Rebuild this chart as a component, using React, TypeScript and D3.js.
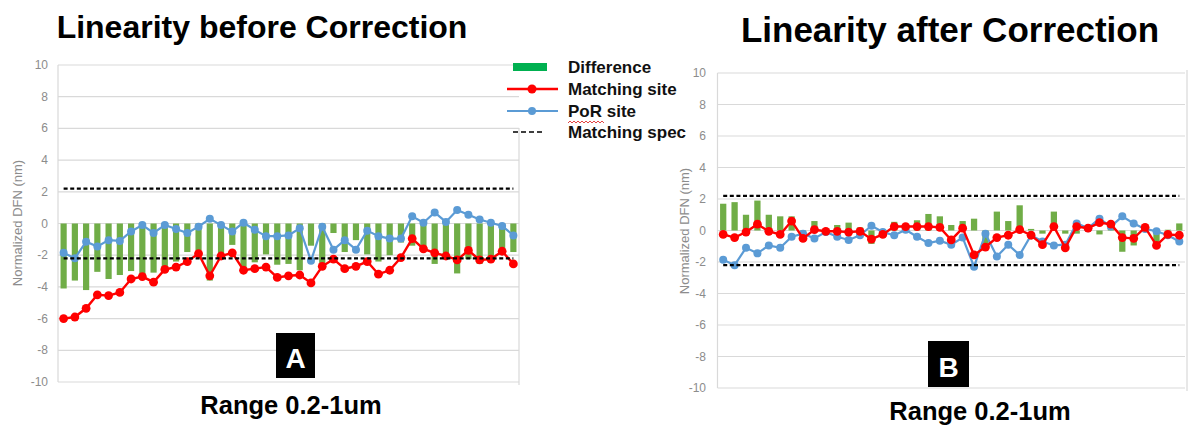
import React, { useRef, useEffect } from 'react';
import * as d3 from 'd3';

// site index along the range (41 measurement sites)
const siteIds = d3.range(1, 42);
const yTicks = [10, 8, 6, 4, 2, 0, -2, -4, -6, -8, -10];
const specLimit = 2.2;

// before correction
const beforeMatching = [-6.0, -5.9, -5.35, -4.5, -4.55, -4.35, -3.5, -3.35, -3.7, -2.9, -2.75, -2.4, -1.9, -3.3, -2.05, -1.85, -2.95, -2.85, -2.75, -3.4, -3.3, -3.25, -3.75, -2.7, -2.25, -2.85, -2.7, -2.4, -3.2, -2.95, -2.15, -0.95, -1.6, -1.85, -2.05, -2.3, -1.7, -2.3, -2.25, -1.75, -2.55];
const beforePoR = [-1.85, -2.2, -1.15, -1.45, -1.05, -1.1, -0.5, -0.1, -0.6, -0.1, -0.35, -0.6, -0.2, 0.3, -0.1, -0.5, 0.05, -0.4, -0.8, -0.8, -0.75, -0.3, -2.35, -0.2, -1.65, -1.05, -1.65, -0.45, -0.8, -0.95, -0.95, 0.45, 0.05, 0.7, 0.1, 0.85, 0.55, 0.25, 0.05, -0.15, -0.75];
const beforeDiff = [-4.1, -3.6, -4.2, -3.05, -3.5, -3.25, -3.0, -3.25, -3.1, -2.8, -2.4, -1.8, -1.7, -3.6, -1.95, -1.35, -3.0, -2.45, -1.95, -2.6, -2.55, -2.95, -1.4, -2.5, -0.6, -1.8, -1.05, -1.95, -2.4, -2.0, -1.2, -1.4, -1.65, -2.55, -2.15, -3.15, -2.25, -2.55, -2.3, -1.6, -1.8];

// after correction
const afterMatching = [-0.25, -0.45, -0.1, 0.4, -0.05, -0.25, 0.6, -0.5, 0.05, -0.05, -0.05, -0.1, -0.05, -0.55, -0.25, 0.25, 0.25, 0.25, 0.25, 0.2, -0.6, 0.15, -1.55, -1.05, -0.45, -0.3, 0.05, -0.3, -0.9, 0.25, -1.1, 0.25, 0.15, 0.5, 0.4, -0.45, -0.5, 0.2, -0.95, -0.25, -0.3];
const afterPoR = [-1.85, -2.2, -1.1, -1.45, -0.95, -1.1, -0.4, -0.2, -0.5, -0.1, -0.4, -0.6, -0.3, 0.3, -0.1, -0.3, 0.05, -0.4, -0.8, -0.65, -0.9, -0.45, -2.3, -0.2, -1.65, -0.9, -1.55, -0.3, -0.7, -0.95, -0.9, 0.45, 0.15, 0.75, 0.25, 0.9, 0.45, 0.1, -0.05, -0.3, -0.7];
const afterDiff = [1.7, 1.8, 1.0, 1.9, 1.0, 0.9, 0.9, -0.3, 0.6, 0.05, 0.35, 0.5, 0.2, -0.85, -0.15, 0.55, 0.2, 0.65, 1.05, 0.9, 0.35, 0.6, 0.75, -0.85, 1.2, 0.6, 1.6, 0.1, -0.2, 1.2, -0.2, -0.2, 0.0, -0.25, 0.15, -1.35, -0.95, 0.1, -0.95, 0.05, 0.45];

const legendItems = ['Difference', 'Matching site', 'PoR site', 'Matching spec'];

const FONT = "'Liberation Sans', Arial, sans-serif";
const GREEN = '#70ad47';
const RED = '#ff0000';
const BLUE = '#5b9bd5';
const GRID = '#d9d9d9';
const TICK = '#8c8c8c';

function drawPanel(svg, p) {
    const x = d3.scaleBand().domain(siteIds).range([p.left, p.right]).paddingInner(0.45).paddingOuter(0.225);
    const xc = (i) => x(siteIds[i]) + x.bandwidth() / 2;
    const y = d3.scaleLinear().domain([-10, 10]).range([p.bottom, p.top]);

    const g = svg.append('g');

    // gridlines
    g.selectAll('line.grid')
        .data(yTicks)
        .enter()
        .append('line')
        .attr('x1', p.left)
        .attr('x2', p.right)
        .attr('y1', (d) => y(d))
        .attr('y2', (d) => y(d))
        .attr('stroke', GRID)
        .attr('stroke-width', 1.2);

    g.append('line')
        .attr('x1', p.left).attr('x2', p.left)
        .attr('y1', y(10)).attr('y2', y(-10))
        .attr('stroke', GRID).attr('stroke-width', 1.2);

    g.append('line')
        .attr('x1', p.border).attr('x2', p.border)
        .attr('y1', p.borderTop).attr('y2', p.bottom + 3)
        .attr('stroke', GRID).attr('stroke-width', 1.2);

    // tick labels
    g.selectAll('text.tick')
        .data(yTicks)
        .enter()
        .append('text')
        .attr('x', p.tickX)
        .attr('y', (d) => y(d) + 4)
        .attr('text-anchor', 'end')
        .attr('font-family', FONT)
        .attr('font-size', 12)
        .attr('fill', TICK)
        .text((d) => d);

    g.append('text')
        .attr('transform', `translate(${p.titleX},${p.titleY}) rotate(-90)`)
        .attr('text-anchor', 'middle')
        .attr('font-family', FONT)
        .attr('font-size', 13)
        .attr('fill', TICK)
        .text('Normalized DFN (nm)');

    // difference bars
    g.selectAll('rect.bar')
        .data(p.diff)
        .enter()
        .append('rect')
        .attr('x', (d, i) => x(siteIds[i]))
        .attr('y', (d) => y(Math.max(0, d)))
        .attr('width', x.bandwidth())
        .attr('height', (d) => Math.abs(y(d) - y(0)))
        .attr('fill', GREEN);

    const line = d3.line().x((d, i) => xc(i)).y((d) => y(d));

    // PoR site
    g.append('path').attr('d', line(p.por)).attr('fill', 'none').attr('stroke', BLUE).attr('stroke-width', 2.2);
    g.selectAll('circle.por')
        .data(p.por)
        .enter()
        .append('circle')
        .attr('cx', (d, i) => xc(i))
        .attr('cy', (d) => y(d))
        .attr('r', 4)
        .attr('fill', BLUE);

    // matching site
    g.append('path').attr('d', line(p.matching)).attr('fill', 'none').attr('stroke', RED).attr('stroke-width', 2.4);
    g.selectAll('circle.match')
        .data(p.matching)
        .enter()
        .append('circle')
        .attr('cx', (d, i) => xc(i))
        .attr('cy', (d) => y(d))
        .attr('r', 4.4)
        .attr('fill', RED);

    // spec limits
    [specLimit, -specLimit].forEach((s) => {
        g.append('line')
            .attr('x1', xc(0)).attr('x2', xc(siteIds.length - 1))
            .attr('y1', y(s)).attr('y2', y(s))
            .attr('stroke', '#000')
            .attr('stroke-width', 2.4)
            .attr('stroke-dasharray', '4,2.6');
    });

    // titles
    svg.append('text')
        .attr('x', p.headX).attr('y', p.headY)
        .attr('text-anchor', 'middle')
        .attr('font-family', FONT).attr('font-weight', 'bold')
        .attr('font-size', p.headSize)
        .attr('fill', '#000')
        .text(p.head);

    svg.append('text')
        .attr('x', p.rangeX).attr('y', p.rangeY)
        .attr('text-anchor', 'middle')
        .attr('font-family', FONT).attr('font-weight', 'bold')
        .attr('font-size', 25.5)
        .attr('fill', '#000')
        .text('Range 0.2-1um');

    svg.append('rect')
        .attr('x', p.box[0]).attr('y', p.box[1])
        .attr('width', p.box[2]).attr('height', p.box[3])
        .attr('fill', '#000');
    svg.append('text')
        .attr('x', p.box[0] + p.box[2] / 2).attr('y', p.box[1] + p.box[3] - 10)
        .attr('text-anchor', 'middle')
        .attr('font-family', FONT).attr('font-weight', 'bold')
        .attr('font-size', 28)
        .attr('fill', '#fff')
        .text(p.letter);
}

function drawLegend(svg) {
    const g = svg.append('g');
    const rowY = [67, 89, 111, 132];

    g.append('rect').attr('x', 513).attr('y', 63).attr('width', 34).attr('height', 8).attr('fill', '#00b050');
    g.append('line').attr('x1', 507).attr('x2', 558).attr('y1', rowY[1]).attr('y2', rowY[1]).attr('stroke', RED).attr('stroke-width', 2.5);
    g.append('circle').attr('cx', 532).attr('cy', rowY[1]).attr('r', 4.5).attr('fill', RED);
    g.append('line').attr('x1', 507).attr('x2', 558).attr('y1', rowY[2]).attr('y2', rowY[2]).attr('stroke', BLUE).attr('stroke-width', 2.2);
    g.append('circle').attr('cx', 532).attr('cy', rowY[2]).attr('r', 4).attr('fill', BLUE);
    g.append('line').attr('x1', 513).attr('x2', 545).attr('y1', rowY[3]).attr('y2', rowY[3])
        .attr('stroke', '#000').attr('stroke-width', 1.6).attr('stroke-dasharray', '5,3');

    g.selectAll('text.leg')
        .data(legendItems)
        .enter()
        .append('text')
        .attr('x', 568)
        .attr('y', (d, i) => rowY[i] + 6)
        .attr('font-family', FONT).attr('font-weight', 'bold')
        .attr('font-size', 17)
        .attr('fill', '#111')
        .text((d) => d);

    // spell-check squiggle under "PoR"
    const wave = d3.range(0, 38, 2).map((dx, i) => [568 + dx, 122 + (i % 2 ? -1 : 1)]);
    g.append('path').attr('d', d3.line()(wave)).attr('fill', 'none').attr('stroke', '#e03030').attr('stroke-width', 0.9);
}

export default function App() {
    const ref = useRef(null);

    useEffect(() => {
        const svg = d3.select(ref.current);
        svg.selectAll('*').remove();

        drawPanel(svg, {
            left: 58, right: 519, top: 65, bottom: 382,
            border: 519, borderTop: 128,
            tickX: 48, titleX: 22, titleY: 223,
            matching: beforeMatching, por: beforePoR, diff: beforeDiff,
            head: 'Linearity before Correction', headX: 262, headY: 38, headSize: 32,
            rangeX: 291, rangeY: 414,
            box: [276, 333, 39, 45], letter: 'A',
        });

        drawPanel(svg, {
            left: 717.5, right: 1185, top: 73, bottom: 388,
            border: 1187, borderTop: 70,
            tickX: 706, titleX: 689, titleY: 231,
            matching: afterMatching, por: afterPoR, diff: afterDiff,
            head: 'Linearity after Correction', headX: 950, headY: 42, headSize: 35,
            rangeX: 980, rangeY: 420,
            box: [928, 341, 41, 46], letter: 'B',
        });

        drawLegend(svg);
    }, []);

    return (
        <div style={{ position: 'absolute', left: 0, top: 0, background: '#fff' }}>
            <svg ref={ref} width={1189} height={428} style={{ display: 'block' }} />
        </div>
    );
}
